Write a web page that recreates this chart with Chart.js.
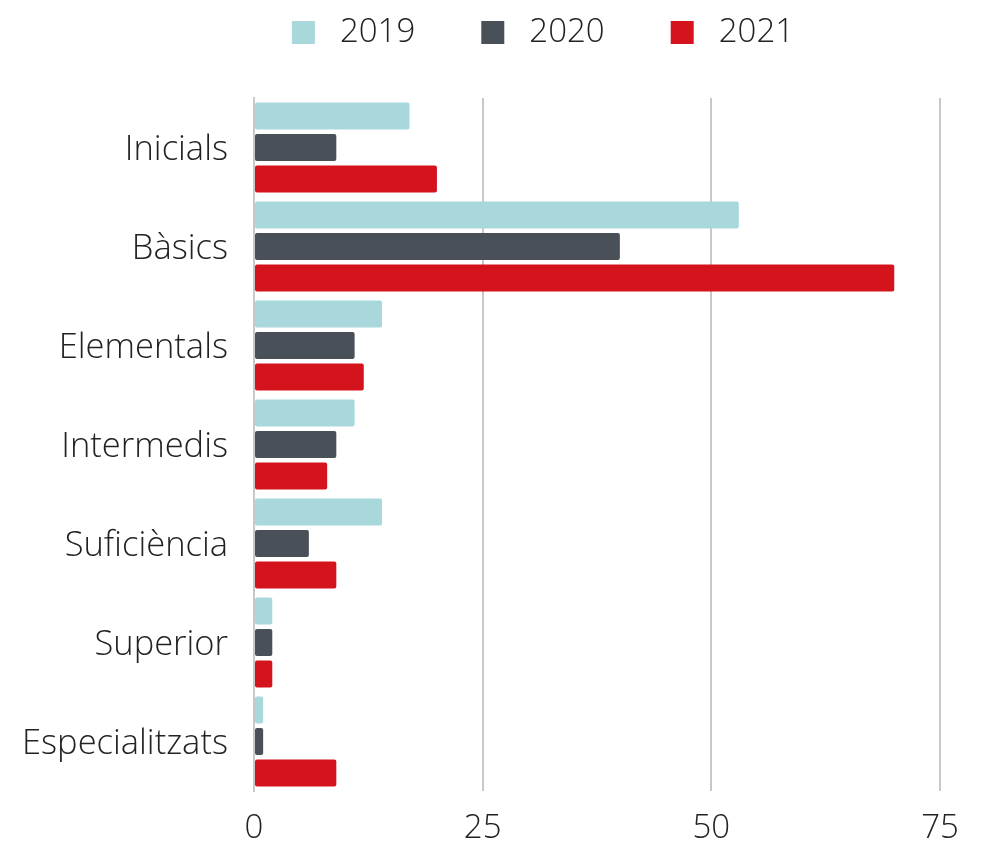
<!DOCTYPE html>
<html lang="ca">
<head>
    <meta charset="UTF-8">
    <title>Nivells</title>
    <script src="https://cdn.jsdelivr.net/npm/chart.js"></script>
    <style>
        html, body { margin: 0; padding: 0; background: #fff; }
        .chart-box { width: 982px; height: 845px; position: relative; }
    </style>
</head>
<body>
    <div class="chart-box">
        <canvas id="levelsChart"></canvas>
    </div>

    <script>
        const levels = ["Inicials", "Bàsics", "Elementals", "Intermedis", "Suficiència", "Superior", "Especialitzats"];
        const years = ["2019", "2020", "2021"];
        const values2019 = [17, 53, 14, 11, 14, 2, 1];
        const values2020 = [9, 40, 11, 9, 6, 2, 1];
        const values2021 = [20, 70, 12, 8, 9, 2, 9];
        const xTicks = [0, 25, 50, 75];

        const colors = ["#a8d8dc", "#495058", "#d5131c"];
        const font = { family: "'Open Sans', sans-serif", weight: 300, size: 33 };

        // legend sits high above the plot and a bit right of centre
        const legendPlacement = {
            id: "legendPlacement",
            afterInit(chart) {
                const fit = chart.legend.fit;
                chart.legend.fit = function () {
                    fit.call(this);
                    this.height = 148;
                };
            },
            afterLayout(chart) {
                chart.legend.left = 146;
            }
        };

        const ctx = document.getElementById("levelsChart").getContext("2d");
        new Chart(ctx, {
            type: "bar",
            data: {
                labels: levels,
                datasets: [values2019, values2020, values2021].map((vals, i) => ({
                    label: years[i],
                    data: vals,
                    backgroundColor: colors[i],
                    borderWidth: 0,
                    borderRadius: 2,
                    borderSkipped: false,
                    categoryPercentage: 0.955,
                    barPercentage: 0.86
                }))
            },
            options: {
                indexAxis: "y",
                responsive: true,
                maintainAspectRatio: false,
                animation: false,
                layout: { padding: { top: -50, right: 42, left: 0, bottom: 0 } },
                plugins: {
                    legend: {
                        position: "top",
                        labels: {
                            boxWidth: 23,
                            boxHeight: 23,
                            padding: 66,
                            color: "#222",
                            font: font,
                            generateLabels: (chart) =>
                                Chart.defaults.plugins.legend.labels.generateLabels(chart)
                                    .map(item => ({ ...item, text: " " + item.text }))
                        }
                    },
                    tooltip: { enabled: false }
                },
                scales: {
                    x: {
                        min: 0,
                        max: 75,
                        afterBuildTicks: (scale) => { scale.ticks = xTicks.map(v => ({ value: v })); },
                        afterFit: (scale) => { scale.height = 54; },
                        grid: { color: "#c8c8c8", lineWidth: 2, drawTicks: false },
                        border: { display: false },
                        ticks: { color: "#222", font: font, padding: 18 }
                    },
                    y: {
                        afterFit: (scale) => { scale.width = 254; },
                        grid: { display: false },
                        border: { display: true, color: "#c8c8c8", width: 2 },
                        ticks: { color: "#222", font: { ...font, size: 34.5 }, padding: 18, labelOffset: 3 }
                    }
                }
            },
            plugins: [legendPlacement]
        });
    </script>
</body>
</html>
